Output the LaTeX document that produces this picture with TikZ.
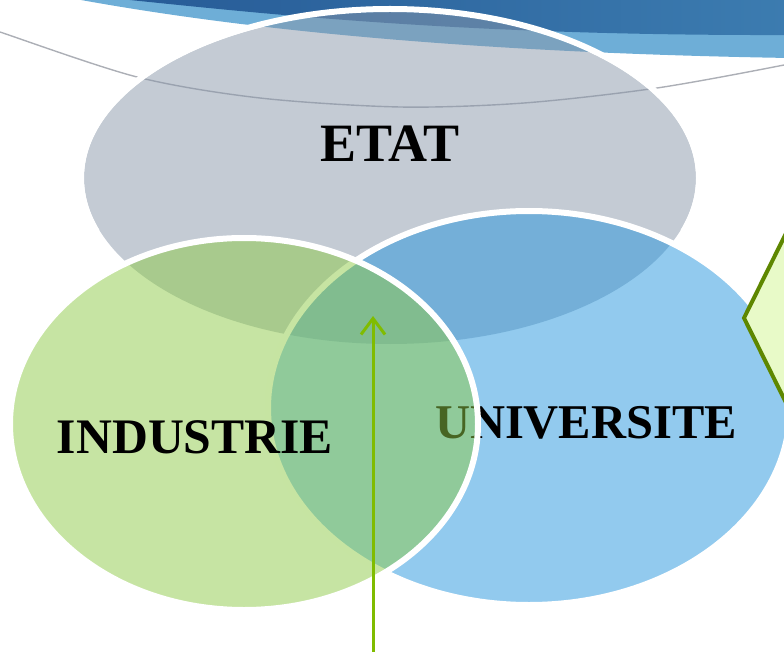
\documentclass[tikz,border=0pt]{standalone}
\usepackage{fontspec}
\setmainfont{Liberation Serif}
\usetikzlibrary{shapes.geometric, arrows.meta}

\definecolor{swooshdeep}{RGB}{38,90,150}
\definecolor{swooshdark}{RGB}{60,124,176}
\definecolor{swooshlight}{RGB}{110,174,215}
\definecolor{arcgray}{RGB}{172,175,182}
\definecolor{etatfill}{RGB}{137,151,169}
\definecolor{univfill}{RGB}{37,149,221}
\definecolor{indfill}{RGB}{142,202,71}
\definecolor{arrowgreen}{RGB}{128,188,0}
\definecolor{boxfill}{RGB}{232,250,200}
\definecolor{boxedge}{RGB}{94,135,0}

\begin{document}
\begin{tikzpicture}[x=1pt, y=-1pt,
  setshape/.style={ellipse, inner sep=0pt, fill opacity=0.5},
  ringline/.style={draw=white, draw opacity=1, line width=6pt},
  setlabel/.style={anchor=base, inner sep=0pt, text=black},
  pointer/.style={arrowgreen, line width=3pt, -{Straight Barb[length=16pt, width=24pt]}},
]
\useasboundingbox (0,0) rectangle (784,652);
\clip (0,0) rectangle (784,652);

% header swoosh
\fill[swooshlight] (70,-2) .. controls (200,22) and (420,52) .. (790,58)
  -- (790,-5) -- (70,-5) -- cycle;
\shade[left color=swooshdeep, right color=swooshdark]
  (110,-2) .. controls (250,12) and (450,36) .. (790,35)
  -- (790,-5) -- (110,-5) -- cycle;

% thin grey arc
\draw[arcgray, line width=1.4pt] plot[smooth] coordinates
  {(-10,28) (0,32) (137,77) (260,98) (400,107) (524,103) (657,88) (784,65) (794,61)};

% ETAT: fill sits inside the white rim, rim only shown over the header
\node[setshape, fill=etatfill, minimum width=612pt, minimum height=332pt] (etat) at (390,178) {};
\begin{scope}
  \clip (0,0) rectangle (784,230);
  \draw[white, line width=6pt] (etat.center) ellipse [x radius=309pt, y radius=169pt];
\end{scope}
\node[setlabel, font=\fontsize{54}{60}\selectfont\bfseries] (etatlabel) at (390,162) {ETAT};

% UNIVERSITE
\node[setshape, ringline, fill=univfill, minimum width=522pt, minimum height=394pt] (univ) at (529,408) {};
\node[setlabel, font=\fontsize{48.5}{56}\selectfont\bfseries] (univlabel) at (586,438) {UNIVERSITE};

% INDUSTRIE
\node[setshape, ringline, fill=indfill, minimum width=468pt, minimum height=372pt] (ind) at (244,424) {};
\node[setlabel, font=\fontsize{49.7}{56}\selectfont\bfseries] (indlabel) at (195,453) {INDUSTRIE};

% arrow pointing into the common zone
\coordinate (arrowfoot) at (373,660);
\coordinate (arrowtip) at (373,316);
\draw[pointer] (arrowfoot) -- (arrowtip);

% callout shape on the right edge
\filldraw[fill=boxfill, draw=boxedge, line width=4pt, line join=miter]
  (744,318) -- (800,205) -- (900,205) -- (900,431) -- (800,431) -- cycle;
\end{tikzpicture}
\end{document}
